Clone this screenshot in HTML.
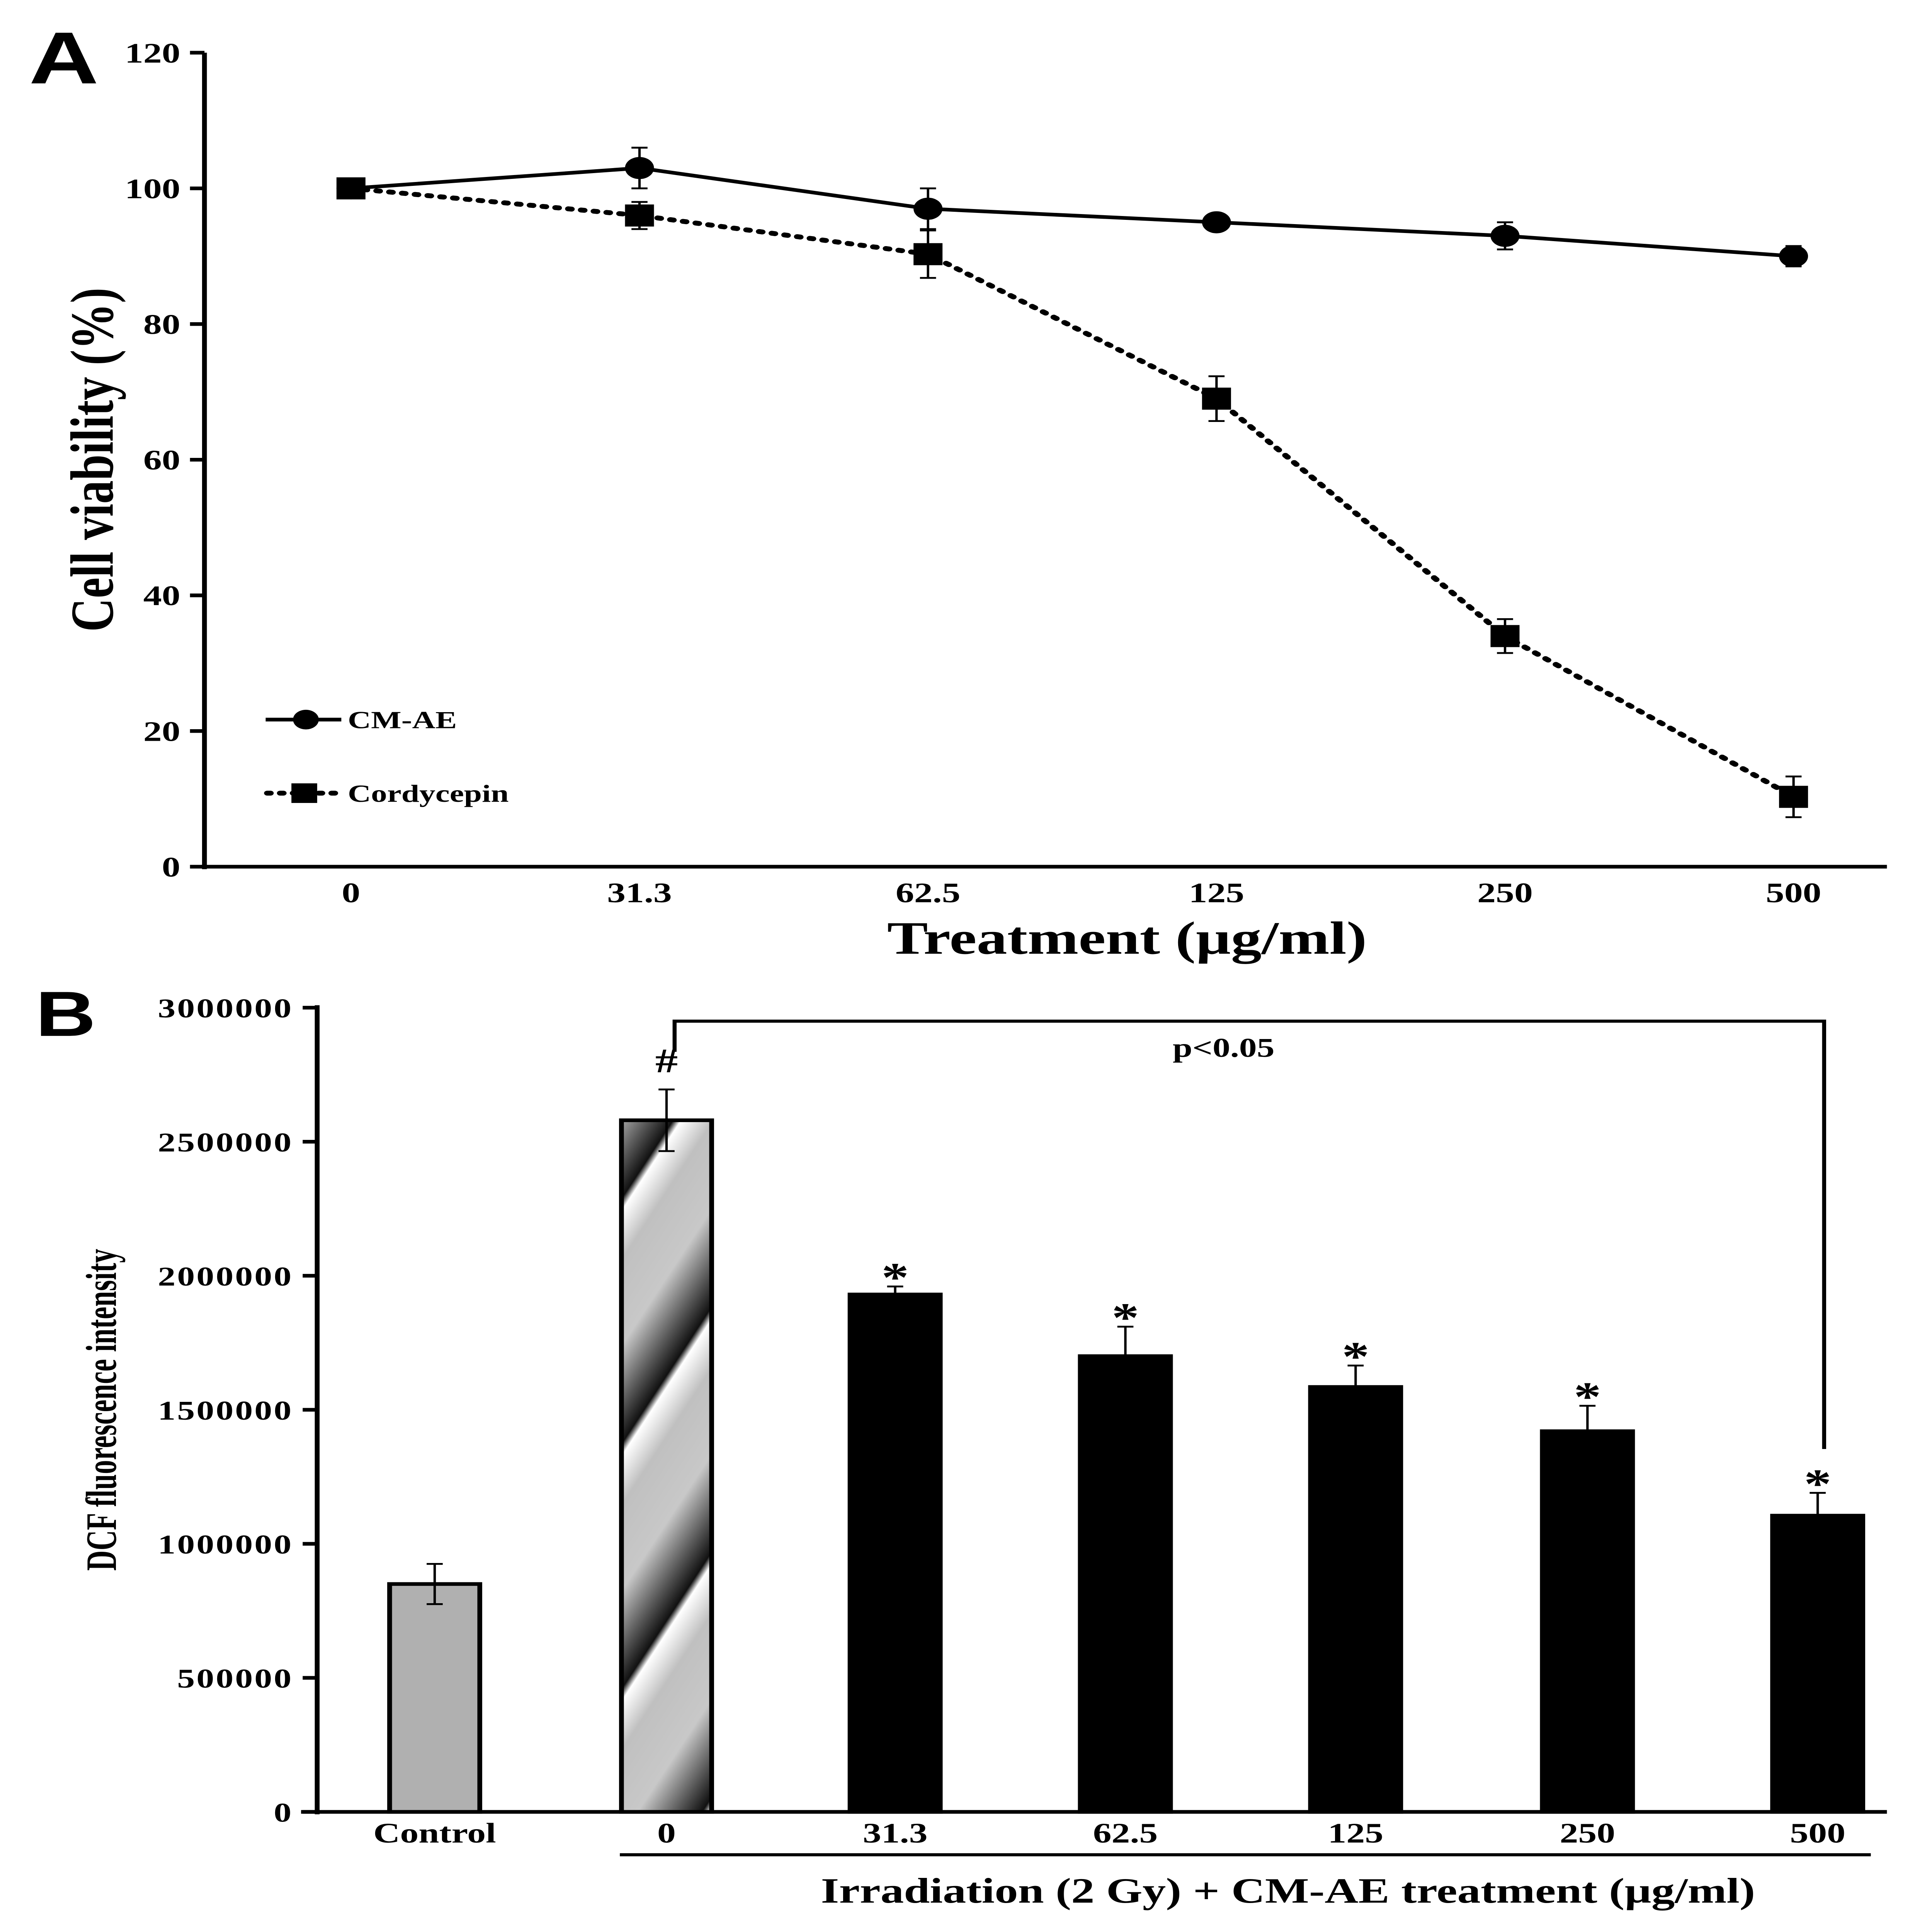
<!DOCTYPE html>
<html><head><meta charset="utf-8"><style>html,body{margin:0;padding:0;background:#fff;width:100vw;height:100vh;overflow:hidden}svg{display:block;position:fixed;left:0;top:0;width:100vw;height:100vh}</style></head>
<body>
<svg id="fig" viewBox="0 0 1200 1576" preserveAspectRatio="none" xmlns="http://www.w3.org/2000/svg" font-family="'Liberation Serif', serif" font-weight="bold">
<defs>
<linearGradient id="stripe" gradientUnits="userSpaceOnUse" x1="0" y1="0" x2="80" y2="40" spreadMethod="repeat">
<stop offset="0" stop-color="#c0c0c0"/><stop offset="0.35" stop-color="#c8c8c8"/><stop offset="0.6" stop-color="#555"/><stop offset="0.75" stop-color="#111"/><stop offset="0.8" stop-color="#fff"/><stop offset="1" stop-color="#c0c0c0"/>
</linearGradient>
</defs>
<text x="18" y="68" font-family="'Liberation Sans', sans-serif" font-size="60">A</text>
<text x="22" y="845" font-family="'Liberation Sans', sans-serif" font-size="52">B</text>
<g id="chartA"></g>
<g id="chartB"></g>
</svg>
<script>
const catsA = ["0","31.3","62.5","125","250","500"];
const cmae = [100,103,97,95,93,90];
const cmaeErr = [0,3,3,1,2,1.5];
const cordy = [100,96,90.3,69,34,10.3];
const cordyErr = [0,2,3.5,3.3,2.5,3];
const ticksA = [0,20,40,60,80,100,120];

const catsB = ["Control","0","31.3","62.5","125","250","500"];
const valsB = [850000,2580000,1930000,1700000,1585000,1420000,1105000];
const errB = [75000,115000,30000,110000,80000,95000,85000];
const marksB = ["","#","*","*","*","*","*"];
const ticksB = [0,500000,1000000,1500000,2000000,2500000,3000000];

const NS="http://www.w3.org/2000/svg";
function mk(p,tag,attrs,txt){const e=document.createElementNS(NS,tag);for(const k in attrs)e.setAttribute(k,attrs[k]);if(txt!==undefined)e.textContent=txt;p.appendChild(e);return e;}

const A=document.getElementById('chartA');
const yA=v=>707-(v/120)*664;
const xA=i=>218+i*179.2;
let e;
e=mk(A,'line',{x1:127,y1:43,x2:127,y2:709,stroke:'#000','stroke-width':3});

e=mk(A,'line',{x1:125,y1:707,x2:1172,y2:707,stroke:'#000','stroke-width':3});

ticksA.forEach(t=>{
 mk(A,'line',{x1:118,y1:yA(t),x2:127,y2:yA(t),stroke:'#000','stroke-width':3});
 e=mk(A,'text',{x:112,y:yA(t)+8,'text-anchor':'end','font-size':23},String(t));
 
});
catsA.forEach((c,i)=>{
 e=mk(A,'text',{x:xA(i),y:736,'text-anchor':'middle','font-size':23},c);
 
});
e=mk(A,'text',{x:700,y:778,'text-anchor':'middle','font-size':38},'Treatment (µg/ml)');

e=mk(A,'text',{x:0,y:0,'text-anchor':'middle','font-size':38,transform:'translate(70,375) rotate(-90)'},'Cell viability  (%)');

e=mk(A,'polyline',{points:cmae.map((v,i)=>xA(i)+','+yA(v)).join(' '),fill:'none',stroke:'#000','stroke-width':3});

e=mk(A,'polyline',{points:cordy.map((v,i)=>xA(i)+','+yA(v)).join(' '),fill:'none',stroke:'#000','stroke-width':4,'stroke-dasharray':'2 6','stroke-linecap':'round'});

function eb(p,x,v,err,yf){if(!err)return;mk(p,'line',{x1:x,y1:yf(v+err),x2:x,y2:yf(v-err),stroke:'#000','stroke-width':1.5});[v+err,v-err].forEach(w=>mk(p,'line',{x1:x-5,y1:yf(w),x2:x+5,y2:yf(w),stroke:'#000','stroke-width':1.5}));}
cordy.forEach((v,i)=>{eb(A,xA(i),v,cordyErr[i],yA);
 e=mk(A,'rect',{x:xA(i)-9,y:yA(v)-9,width:18,height:18,fill:'#000'});
 });
cmae.forEach((v,i)=>{eb(A,xA(i),v,cmaeErr[i],yA);
 e=mk(A,'circle',{cx:xA(i),cy:yA(v),r:9,fill:'#000'});
 });
mk(A,'line',{x1:165,y1:587,x2:212,y2:587,stroke:'#000','stroke-width':3});
mk(A,'circle',{cx:190,cy:587,r:8,fill:'#000'});
e=mk(A,'text',{x:216,y:594,'font-size':20},'CM-AE');

mk(A,'line',{x1:166,y1:647,x2:212,y2:647,stroke:'#000','stroke-width':4,'stroke-dasharray':'2 6','stroke-linecap':'round'});
mk(A,'rect',{x:181,y:639,width:16,height:16,fill:'#000'});
e=mk(A,'text',{x:216,y:654,'font-size':20},'Cordycepin');


const B=document.getElementById('chartB');
const yB=v=>1478-(v/3000000)*656;
const xB=[270,414,556,699,842,986,1129];
e=mk(B,'line',{x1:197,y1:820,x2:197,y2:1480,stroke:'#000','stroke-width':3});

e=mk(B,'line',{x1:187,y1:1478,x2:1172,y2:1478,stroke:'#000','stroke-width':3});

ticksB.forEach(t=>{
 mk(B,'line',{x1:188,y1:yB(t),x2:197,y2:yB(t),stroke:'#000','stroke-width':3});
 e=mk(B,'text',{x:182,y:yB(t)+8,'text-anchor':'end','font-size':22,'letter-spacing':'1'},String(t));
 
});
valsB.forEach((v,i)=>{
 const fill=i===0?'#b0b0b0':(i===1?'url(#stripe)':'#000');
 e=mk(B,'rect',{x:xB[i]-28,y:yB(v),width:56,height:1478-yB(v),fill:fill,stroke:'#000','stroke-width':3});
 
 eb(B,xB[i],v,errB[i],yB);
 if(marksB[i]){e=mk(B,'text',{x:xB[i],y:yB(v+errB[i])-(marksB[i]==='#'?14:-4),'text-anchor':'middle','font-size':marksB[i]==='#'?28:34},marksB[i]);
  }
 e=mk(B,'text',{x:xB[i],y:1503,'text-anchor':'middle','font-size':23},catsB[i]);
 
});
e=mk(B,'polyline',{points:'419,858 419,833 1133,833 1133,1182',fill:'none',stroke:'#000','stroke-width':2.5});

e=mk(B,'text',{x:760,y:862,'text-anchor':'middle','font-size':22},'p<0.05');

mk(B,'line',{x1:385,y1:1513,x2:1162,y2:1513,stroke:'#000','stroke-width':2.5});
e=mk(B,'text',{x:800,y:1552,'text-anchor':'middle','font-size':29},'Irradiation (2 Gy) + CM-AE treatment (µg/ml)');

e=mk(B,'text',{x:0,y:0,'text-anchor':'middle','font-size':27,transform:'translate(72,1150) rotate(-90) scale(0.85,1)'},'DCF fluorescence intensity');

</script>
</body></html>
